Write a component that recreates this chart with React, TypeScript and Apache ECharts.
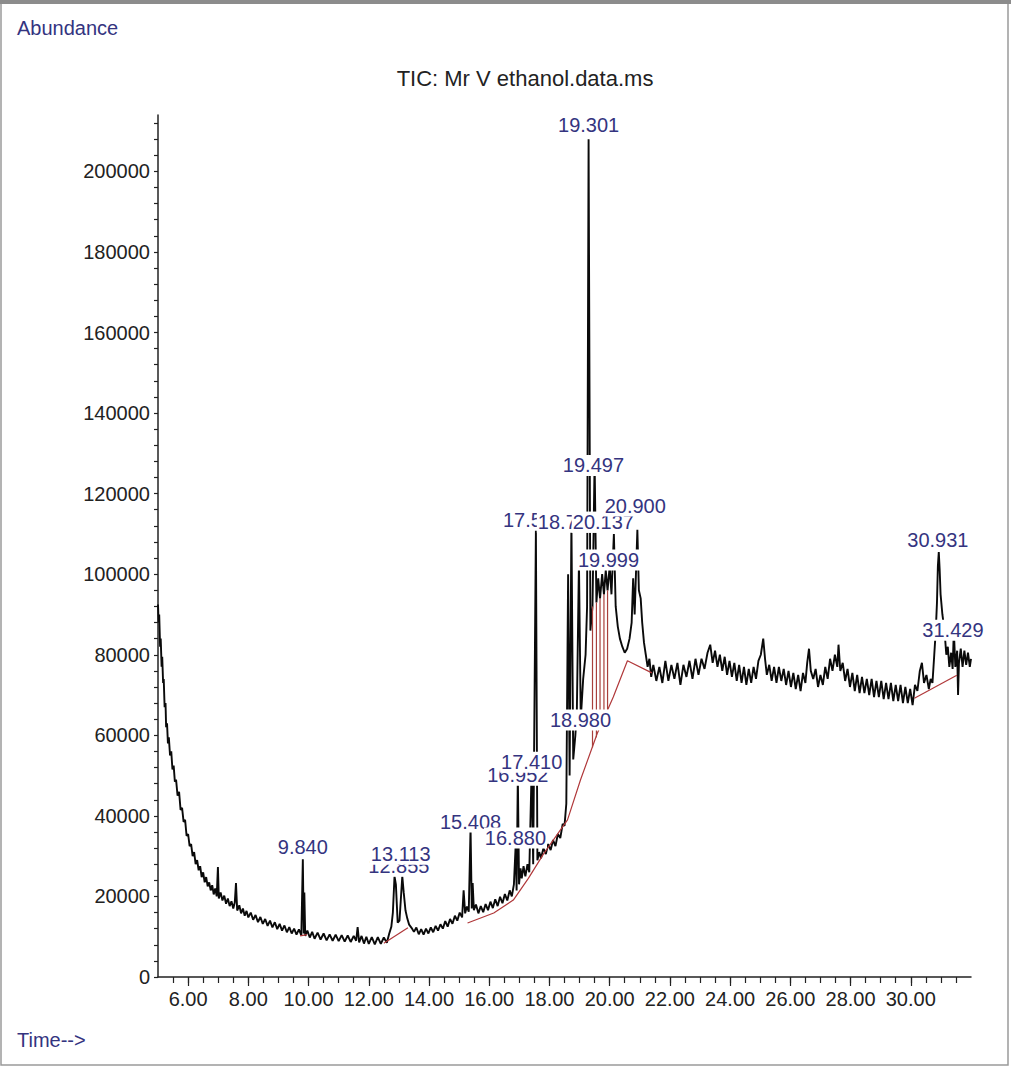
import React, { useEffect, useRef } from "react";
import * as echarts from "echarts";

// ---------- data (abundance values in thousands) ----------
const xLabelValues = [6, 8, 10, 12, 14, 16, 18, 20, 22, 24, 26, 28, 30];
const yLabelValues = [0, 20000, 40000, 60000, 80000, 100000, 120000, 140000, 160000, 180000, 200000];

const trace: [number, number][] = [
  [5.00, 92.5], [5.02, 88], [5.04, 90], [5.07, 82], [5.09, 84], [5.12, 77], [5.14, 79.5], [5.17, 73], [5.19, 74],
  [5.22, 67], [5.25, 68], [5.27, 62], [5.30, 63], [5.33, 58], [5.36, 59.5], [5.40, 55], [5.44, 56], [5.48, 51.5],
  [5.52, 52.5], [5.56, 48.5], [5.60, 49], [5.65, 45], [5.70, 46], [5.75, 41.5], [5.80, 42], [5.85, 38.5], [5.90, 39],
  [5.95, 35], [6.00, 35.5], [6.05, 32.5], [6.10, 33], [6.15, 30], [6.20, 31], [6.25, 28], [6.30, 29], [6.35, 26.5],
  [6.40, 27.5], [6.45, 24.8], [6.50, 26], [6.55, 23.5], [6.60, 24.8], [6.65, 22.5], [6.70, 23.5], [6.75, 21.5],
  [6.80, 22.8], [6.85, 20.5], [6.90, 22], [6.95, 20], [6.99, 27.3], [7.02, 19.5], [7.08, 21], [7.14, 19], [7.20, 20.2],
  [7.26, 18.2], [7.32, 19.5], [7.38, 17.6], [7.44, 18.8], [7.50, 17], [7.55, 18.5], [7.59, 23.3], [7.63, 16.5],
  [7.70, 17.8], [7.76, 15.8], [7.82, 17], [7.88, 15.2], [7.94, 16.4], [8.00, 14.8], [8.08, 16], [8.16, 14.2],
  [8.24, 15.4], [8.32, 13.6], [8.40, 14.9], [8.48, 13.2], [8.56, 14.4], [8.64, 12.7], [8.72, 14], [8.80, 12.3],
  [8.88, 13.6], [8.96, 11.9], [9.04, 13.2], [9.12, 11.5], [9.20, 12.8], [9.28, 11.1], [9.36, 12.4], [9.44, 10.8],
  [9.52, 12], [9.60, 10.5], [9.68, 11.8], [9.76, 10.3], [9.81, 29.2], [9.84, 10.8], [9.86, 21], [9.89, 10.2],
  [9.96, 11.5], [10.04, 9.8], [10.12, 11.2], [10.20, 9.5], [10.30, 11], [10.40, 9.3], [10.50, 10.8], [10.60, 9.1],
  [10.70, 10.6], [10.80, 9], [10.90, 10.5], [11.00, 8.9], [11.10, 10.4], [11.20, 8.8], [11.30, 10.3], [11.40, 8.7],
  [11.50, 10.2], [11.58, 9], [11.63, 12.4], [11.68, 8.6], [11.76, 10.2], [11.84, 8.3], [11.92, 10], [12.00, 8.2],
  [12.10, 9.9], [12.20, 8.1], [12.30, 9.9], [12.40, 8.2], [12.50, 9.8], [12.60, 8.5], [12.68, 10.8], [12.75, 12.5],
  [12.80, 16], [12.855, 25], [12.90, 23], [12.96, 13.5], [13.02, 14], [13.113, 25], [13.16, 21], [13.22, 16.5],
  [13.28, 14.5], [13.34, 13], [13.42, 12.2], [13.50, 11.2], [13.58, 12.3], [13.66, 10.6], [13.74, 11.9], [13.82, 10.5],
  [13.90, 12], [13.98, 10.8], [14.06, 12.3], [14.14, 11.1], [14.22, 12.7], [14.30, 11.5], [14.38, 13.1], [14.46, 12],
  [14.54, 13.9], [14.62, 12.5], [14.70, 14.4], [14.78, 13.2], [14.86, 15.2], [14.94, 14], [15.02, 16], [15.10, 14.8],
  [15.15, 21.5], [15.20, 15.8], [15.26, 17.5], [15.32, 16.2], [15.38, 37], [15.42, 17], [15.45, 23.3], [15.49, 16.6],
  [15.56, 18], [15.64, 15.8], [15.72, 17.6], [15.80, 16.1], [15.88, 18.1], [15.96, 16.6], [16.04, 18.7], [16.12, 17.1],
  [16.20, 19.3], [16.28, 17.6], [16.36, 19.9], [16.44, 18.3], [16.52, 20.6], [16.60, 19], [16.68, 21.5], [16.75, 20],
  [16.82, 23], [16.88, 33], [16.91, 21.5], [16.95, 50], [16.99, 23], [17.04, 27], [17.08, 24.5], [17.14, 27.5],
  [17.20, 25], [17.27, 28], [17.33, 26], [17.41, 52], [17.46, 28], [17.55, 111], [17.60, 29], [17.66, 31],
  [17.72, 29.5], [17.80, 32], [17.88, 30.5], [17.96, 33], [18.04, 31.5], [18.12, 34], [18.20, 32.5], [18.28, 35.5],
  [18.36, 34.5], [18.44, 38], [18.50, 37.5], [18.56, 43], [18.62, 100], [18.67, 50], [18.73, 113], [18.79, 54],
  [18.86, 60], [18.91, 66], [18.98, 103], [19.04, 64], [19.12, 74], [19.20, 80], [19.25, 92], [19.30, 208],
  [19.36, 86], [19.43, 92], [19.50, 128], [19.56, 93], [19.62, 99], [19.68, 94], [19.75, 100], [19.81, 95],
  [19.87, 101], [19.93, 96], [20.00, 102], [20.06, 95], [20.14, 110], [20.20, 92], [20.27, 87], [20.34, 84],
  [20.42, 82], [20.50, 80.5], [20.58, 81.5], [20.66, 84], [20.73, 88], [20.78, 99], [20.83, 90], [20.92, 111],
  [20.97, 96], [21.03, 94], [21.08, 88], [21.14, 83], [21.20, 80], [21.26, 77], [21.32, 79], [21.38, 74.5],
  [21.45, 77.5], [21.55, 73.5], [21.65, 77], [21.75, 73], [21.85, 78.5], [21.95, 73.5], [22.05, 77.5], [22.15, 74],
  [22.25, 78], [22.35, 72.5], [22.45, 77.5], [22.55, 74.5], [22.65, 78.5], [22.75, 74], [22.85, 79], [22.95, 75],
  [23.05, 79], [23.15, 76.5], [23.25, 80.5], [23.34, 82.5], [23.42, 78], [23.50, 81], [23.58, 77], [23.66, 80],
  [23.74, 76], [23.82, 79.5], [23.90, 75], [23.98, 78.5], [24.06, 74.5], [24.14, 78], [24.22, 73.5], [24.30, 77.5],
  [24.38, 73], [24.46, 77], [24.54, 72.5], [24.62, 76.5], [24.70, 73], [24.78, 77], [24.86, 74], [24.94, 78.5],
  [25.02, 80], [25.10, 84], [25.16, 79], [25.22, 75], [25.30, 77.5], [25.38, 73.5], [25.46, 77], [25.54, 73],
  [25.62, 77], [25.70, 73.5], [25.78, 76.5], [25.86, 72.5], [25.94, 76], [26.02, 72], [26.10, 75.5], [26.18, 71.5],
  [26.26, 75], [26.34, 71], [26.42, 75.5], [26.50, 73], [26.56, 78], [26.62, 81.5], [26.68, 76], [26.76, 74],
  [26.84, 76.5], [26.92, 72], [27.00, 75], [27.08, 72.5], [27.16, 77], [27.24, 74], [27.32, 79], [27.40, 76],
  [27.48, 80], [27.56, 77], [27.60, 82.5], [27.66, 76], [27.74, 78], [27.82, 73.5], [27.90, 76.5], [27.98, 72],
  [28.06, 75.5], [28.14, 71], [28.22, 75], [28.30, 70.5], [28.38, 74.5], [28.46, 70.5], [28.54, 74], [28.62, 70],
  [28.70, 74], [28.78, 69.5], [28.86, 73.5], [28.94, 69.5], [29.02, 73.5], [29.10, 69], [29.18, 73], [29.26, 69],
  [29.34, 73], [29.42, 68.5], [29.50, 72.5], [29.58, 68.5], [29.66, 72.5], [29.74, 68], [29.82, 72], [29.90, 68],
  [29.98, 71.5], [30.06, 67.5], [30.14, 72.5], [30.22, 71], [30.30, 76], [30.37, 78], [30.44, 73], [30.52, 75],
  [30.60, 71.5], [30.66, 74], [30.72, 73], [30.78, 80], [30.83, 86], [30.87, 93], [30.90, 102], [30.93, 105.5],
  [30.96, 101], [30.99, 95], [31.05, 90], [31.12, 86], [31.18, 80], [31.23, 82], [31.28, 77], [31.34, 80.5],
  [31.39, 76.5], [31.43, 86], [31.48, 77], [31.54, 81], [31.57, 70], [31.60, 78], [31.66, 81.5], [31.72, 77],
  [31.78, 81], [31.84, 77.5], [31.90, 80.5], [31.96, 77], [32.00, 79],
];

const baselineSegments: [number, number][][] = [
  [[9.72, 10.2], [9.95, 10.5]],
  [[12.50, 8.4], [13.30, 12.2]],
  [[15.28, 13.4], [16.15, 15.9], [16.80, 19.1], [17.30, 24.5], [17.80, 30.5], [18.60, 39], [19.03, 48.9],
   [19.59, 60.5], [20.12, 69.5], [20.59, 78.5], [21.40, 75.5]],
  [[30.12, 69.2], [31.53, 74.9]],
];

// drop lines: [time, baseline value, trace value]
const dropLines: [number, number, number][] = [
  [19.43, 57, 92], [19.56, 59.5, 93], [19.68, 62, 94], [19.81, 64.5, 95], [19.93, 66.5, 96],
];

const peakNames = ["9.840", "12.855", "13.113", "15.408", "16.880", "16.952", "17.410", "17.551", "18.724",
  "20.137", "19.497", "20.900", "19.301", "19.999", "18.980", "30.931", "31.429"];
const labelTimes = [9.81, 13.0, 13.06, 15.38, 16.87, 16.95, 17.41, 17.47, 18.63, 19.79, 19.46, 20.85, 19.30,
  19.96, 19.03, 30.90, 31.40];
const labelLevels = [32.3, 27.5, 30.5, 38.5, 34.5, 50.1, 53.3, 113.4, 112.9, 112.9, 127, 116.9, 211.4,
  103.5, 63.8, 108.4, 86.1];

const xMinorStep = 0.5;
const yMinorStep = 4000;

// ---------- component ----------
const FONT = "'Liberation Sans', Arial, sans-serif";
const NAVY = "#34347f";

export default function App() {
  const ref = useRef<HTMLDivElement>(null);

  useEffect(() => {
    if (!ref.current) return;
    const chart = echarts.init(ref.current, undefined, { renderer: "svg" });

    const xMinorTicks: number[] = [];
    for (let v = 5 + xMinorStep; v < 32; v += xMinorStep) xMinorTicks.push(+v.toFixed(2));
    const yTicks: number[] = [];
    for (let v = 0; v <= 212000; v += yMinorStep) yTicks.push(v);

    const K = (v: number) => v * 1000;

    const series: any[] = [
      {
        type: "line",
        name: "TIC",
        data: trace.map(([t, a]) => [t, K(a)]),
        showSymbol: false,
        symbol: "none",
        lineStyle: { color: "#0a0a0a", width: 1.9 },
        z: 3,
      },
    ];
    baselineSegments.forEach((seg) =>
      series.push({
        type: "line",
        data: seg.map(([t, a]) => [t, K(a)]),
        symbol: "none",
        lineStyle: { color: "#b0383a", width: 1.2 },
        z: 4,
      })
    );
    dropLines.forEach(([t, b, top]) =>
      series.push({
        type: "line",
        data: [[t, K(b)], [t, K(top)]],
        symbol: "none",
        lineStyle: { color: "#a8403c", width: 1.2 },
        z: 4,
      })
    );
    series.push({
      type: "scatter",
      data: peakNames.map((n, i) => ({ name: n, value: [labelTimes[i], K(labelLevels[i])] })),
      symbolSize: 0,
      itemStyle: { color: "#fff", opacity: 1 },
      z: 10,
      label: {
        show: true,
        position: "inside",
        formatter: (p: any) => p.name,
        fontFamily: FONT,
        fontSize: 20,
        color: NAVY,
        opacity: 1,
        backgroundColor: "#ffffff",
        padding: [1, 1, 0, 1],
      },
    });

    chart.setOption({
      animation: false,
      backgroundColor: "#fff",
      grid: { left: 158, right: 40, top: 115, bottom: 90 },
      xAxis: [
        {
          type: "value",
          min: 5,
          max: 32,
          position: "bottom",
          axisLine: { lineStyle: { color: "#222", width: 1.5 } },
          axisTick: { show: true, customValues: xMinorTicks, length: 6, lineStyle: { color: "#222", width: 1.2 } },
          axisLabel: {
            customValues: xLabelValues,
            formatter: (v: number) => v.toFixed(2),
            fontFamily: FONT,
            fontSize: 20,
            color: "#222",
            margin: 12,
          },
          splitLine: { show: false },
        },
        {
          type: "value",
          min: 5,
          max: 32,
          position: "bottom",
          offset: 0,
          axisLine: { show: false },
          axisTick: { show: true, customValues: xLabelValues, length: 9, lineStyle: { color: "#222", width: 1.2 } },
          axisLabel: { show: false },
          splitLine: { show: false },
        },
      ],
      yAxis: {
        type: "value",
        min: 0,
        max: 214000,
        axisLine: { show: true, lineStyle: { color: "#222", width: 1.5 } },
        axisTick: { show: true, customValues: yTicks, length: 4, lineStyle: { color: "#222", width: 1.2 } },
        axisLabel: {
          customValues: yLabelValues,
          formatter: (v: number) => String(v),
          fontFamily: FONT,
          fontSize: 20,
          color: "#222",
          margin: 8,
        },
        splitLine: { show: false },
      },
      series,
      graphic: [
        { type: "rect", shape: { x: 1, y: 1, width: 1007, height: 1064 }, style: { fill: "none", stroke: "#9a9a9a", lineWidth: 1.5 } },
        { type: "rect", shape: { x: 0, y: 0, width: 1011, height: 4 }, style: { fill: "#8c8c8c" } },
        { type: "text", x: 17, y: 28, style: { text: "Abundance", font: `20px ${FONT}`, fill: NAVY, textVerticalAlign: "middle" } },
        { type: "text", x: 525, y: 78, style: { text: "TIC: Mr V ethanol.data.ms", font: `22px ${FONT}`, fill: "#222", textAlign: "center", textVerticalAlign: "middle" } },
        { type: "text", x: 17, y: 1040, style: { text: "Time-->", font: `20px ${FONT}`, fill: NAVY, textVerticalAlign: "middle" } },
      ],
    });

    return () => chart.dispose();
  }, []);

  return (
    <div
      ref={ref}
      style={{ position: "absolute", left: 0, top: 0, width: 1011, height: 1067, background: "#fff" }}
    />
  );
}
